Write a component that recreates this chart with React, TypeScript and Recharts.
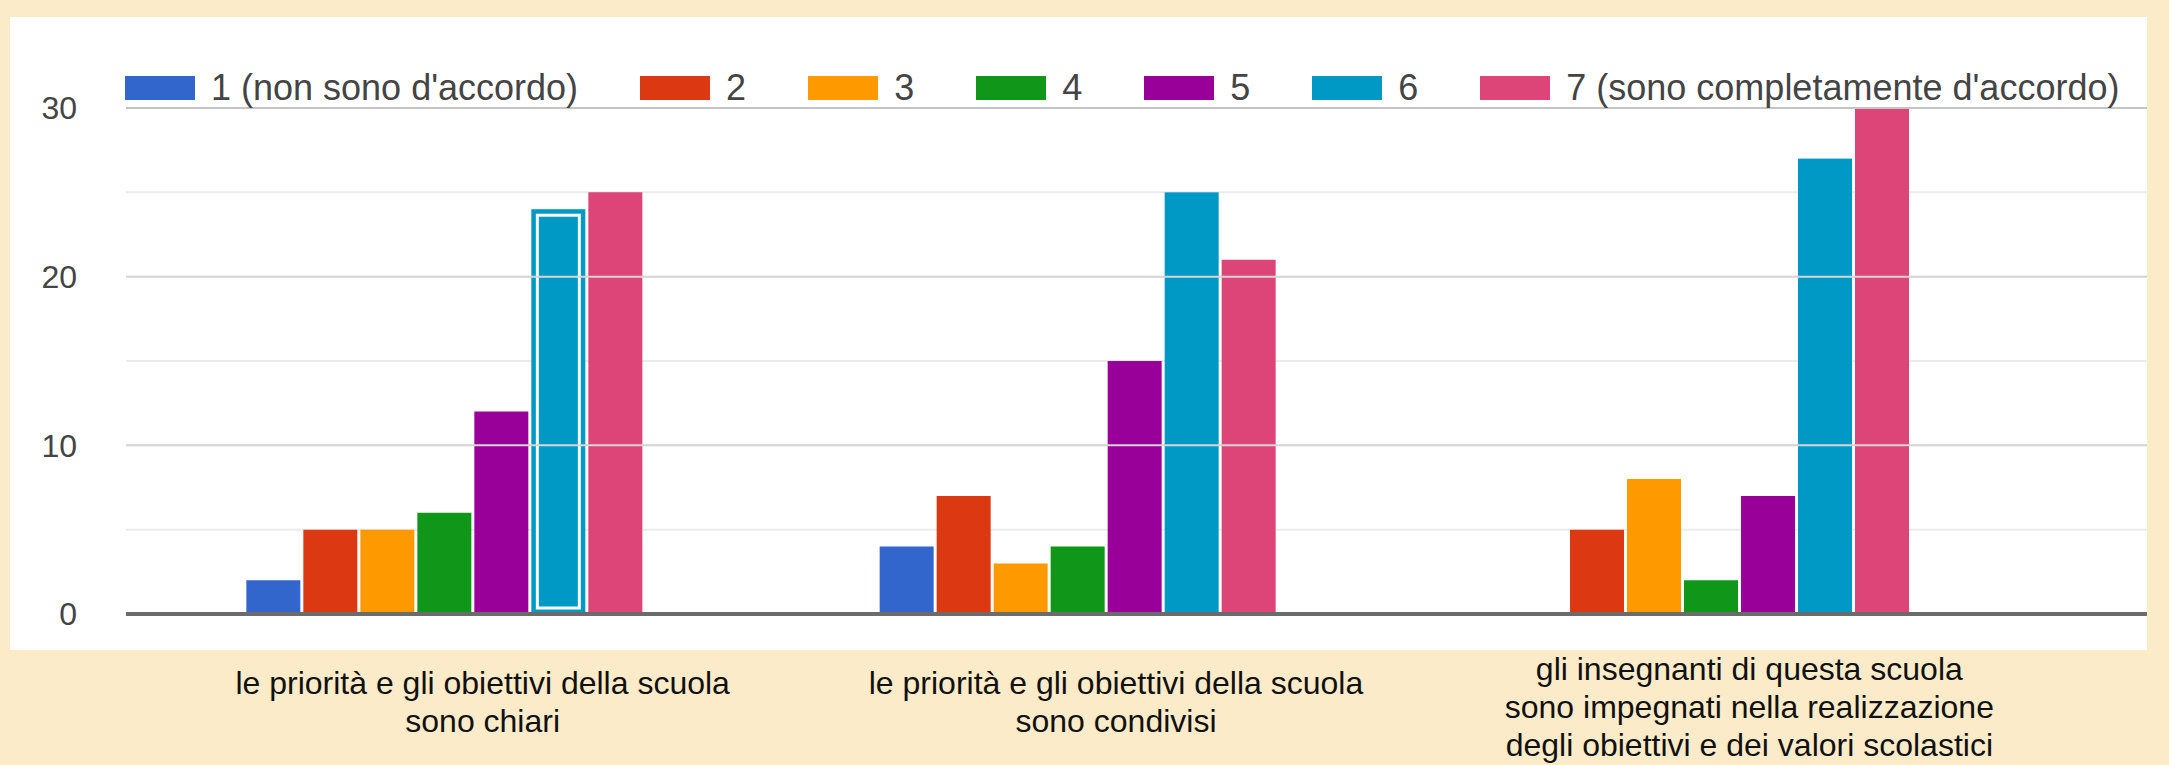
import React from 'react';
import { BarChart, Bar, XAxis, YAxis, CartesianGrid, Legend, ReferenceLine } from 'recharts';

// question labels under each group (one entry per line)
const categoryLines: string[][] = [
  ['le priorità e gli obiettivi della scuola', 'sono chiari'],
  ['le priorità e gli obiettivi della scuola', 'sono condivisi'],
  ['gli insegnanti di questa scuola', 'sono impegnati nella realizzazione', 'degli obiettivi e dei valori scolastici'],
];

const seriesNames = [
  "1 (non sono d'accordo)",
  '2',
  '3',
  '4',
  '5',
  '6',
  "7 (sono completamente d'accordo)",
];

// google-forms palette
const seriesColors = ['#3366cc', '#dc3912', '#ff9900', '#109618', '#990099', '#0099c6', '#dd4477'];

// answers count per question, one array per scale value
const answers1 = [2, 4, 0];
const answers2 = [5, 7, 5];
const answers3 = [5, 3, 8];
const answers4 = [6, 4, 2];
const answers5 = [12, 15, 7];
const answers6 = [24, 25, 27];
const answers7 = [25, 21, 30];

const yTicks = [0, 5, 10, 15, 20, 25, 30];
const yLabelled = [0, 10, 20, 30];

const FONT = 'Arial, "Liberation Sans", sans-serif';

const allSeries = [answers1, answers2, answers3, answers4, answers5, answers6, answers7];
const data = categoryLines.map((_, i) => {
  const row: Record<string, number | string> = { cat: `q${i}` };
  allSeries.forEach((s, k) => {
    row[`s${k}`] = s[i];
  });
  return row;
});

const CategoryTick = (props: any) => {
  const { x, y, payload } = props;
  const lines = categoryLines[payload.index] || [];
  const firstY = y + 69 - (lines.length - 2) * 14;
  return (
    <text textAnchor="middle" fill="#111" fontSize={32} fontFamily={FONT}>
      {lines.map((l, i) => (
        <tspan key={i} x={x + 40} y={firstY + i * 38} dy="0.35em">
          {l}
        </tspan>
      ))}
    </text>
  );
};

// the "6" bar of the first question is shown selected in the source
const selectedShape = (props: any) => {
  const { x, y, width, height, fill, index } = props;
  if (!height) return <g />;
  return (
    <g>
      <rect x={x} y={y} width={width} height={height} fill={fill} />
      {index === 0 && (
        <rect x={x + 6} y={y + 6} width={width - 12} height={height - 12} fill="none" stroke="#fff" strokeWidth={3} />
      )}
    </g>
  );
};

const LegendBox = () => (
  <div style={{ display: 'flex', alignItems: 'center', fontFamily: FONT, fontSize: 36, color: '#444', whiteSpace: 'nowrap' }}>
    {seriesNames.map((n, i) => (
      <div key={n} style={{ display: 'flex', alignItems: 'center', marginRight: 62 }}>
        <span style={{ display: 'inline-block', width: 70, height: 24, background: seriesColors[i], marginRight: 16 }} />
        <span>{n}</span>
      </div>
    ))}
  </div>
);

export default function App() {
  return (
    <div style={{ position: 'relative', width: 2169, height: 765, background: '#fcebc9', overflow: 'hidden' }}>
      <style>{'body{margin:0}'}</style>
      <div style={{ position: 'absolute', left: 10, top: 17, width: 2137, height: 633, background: '#fff' }} />
      <div style={{ position: 'absolute', left: 0, top: 0 }}>
        <BarChart
          width={2169}
          height={765}
          data={data}
          margin={{ top: 108, right: 22, bottom: 11, left: 46 }}
          barCategoryGap="19%"
          barGap={3}
        >
          <CartesianGrid vertical={false} stroke="#ebebeb" strokeWidth={2} />
          {yLabelled.slice(1).map((v) => (
            <ReferenceLine key={v} y={v} stroke={v === 30 ? '#c4c4c4' : '#d6d6d6'} strokeWidth={2} />
          ))}
          <XAxis
            dataKey="cat"
            height={140}
            padding={{ left: 0, right: 121 }}
            axisLine={{ stroke: '#6b6b6b', strokeWidth: 4 }}
            tickLine={false}
            tickSize={0}
            tickMargin={0}
            interval={0}
            tick={<CategoryTick />}
          />
          <YAxis
            width={80}
            domain={[0, 30]}
            ticks={yTicks}
            tickFormatter={(v: number) => (yLabelled.includes(v) ? String(v) : '')}
            axisLine={false}
            tickLine={false}
            tickSize={0}
            tickMargin={49}
            tick={{ fill: '#444', fontSize: 32, fontFamily: FONT }}
          />
          <Legend
            layout="horizontal"
            verticalAlign="middle"
            align="center"
            wrapperStyle={{ top: 67, left: 125, width: 'auto' }}
            content={<LegendBox />}
          />
          {seriesNames.map((n, k) => (
            <Bar
              key={n}
              dataKey={`s${k}`}
              name={n}
              fill={seriesColors[k]}
              isAnimationActive={false}
              shape={k === 5 ? selectedShape : undefined}
            />
          ))}
        </BarChart>
      </div>
    </div>
  );
}
